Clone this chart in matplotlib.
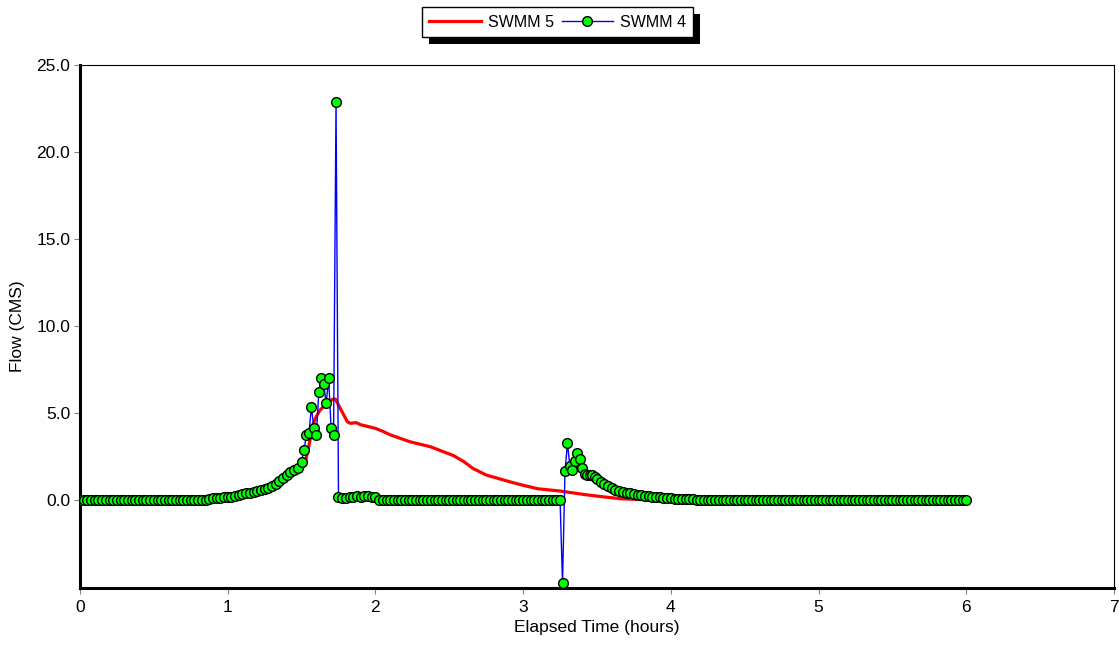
import numpy as np
import matplotlib
matplotlib.use("Agg")
import matplotlib.pyplot as plt
from matplotlib.patches import Rectangle

plt.rcParams['font.family'] = ['Liberation Sans', 'DejaVu Sans']

# ---------------- data ----------------
# SWMM 4 output times (hours): dry steps 1.5 min, wet steps 1 min
swmm4_time = np.concatenate([
    np.arange(0, 60) * 0.025,             # 0.000 .. 1.475
    1.5 + np.arange(0, 15) / 60.0,        # 1.500 .. 1.733
    1.75 + np.arange(0, 61) * 0.025,      # 1.750 .. 3.250
    3.25 + np.arange(1, 16) / 60.0,       # 3.267 .. 3.500
    3.525 + np.arange(0, 100) * 0.025,    # 3.525 .. 6.000
])

swmm4_seg1 = [0.02] * 35 + [
    0.05, 0.10, 0.10, 0.12, 0.15, 0.18, 0.20, 0.25, 0.30, 0.33,
    0.38, 0.42, 0.47, 0.52, 0.58, 0.64, 0.72, 0.82, 0.95, 1.10,
    1.25, 1.42, 1.60, 1.72, 1.85]
swmm4_seg2 = [2.20, 2.90, 3.75, 3.83, 5.36, 4.12, 3.74, 6.19, 6.99, 6.67,
              5.56, 6.99, 4.12, 3.74, 22.86]
swmm4_seg3 = [0.19, 0.12, 0.10, 0.15, 0.20, 0.22, 0.20, 0.22, 0.22, 0.20,
              0.18] + [0.02] * 50
swmm4_seg4 = [-4.77, 1.65, 3.26, 1.95, 1.75, 2.25, 2.68, 2.35, 1.85, 1.50,
              1.42, 1.45, 1.42, 1.30, 1.20]
swmm4_seg5 = [1.05, 0.92, 0.82, 0.70, 0.60, 0.52, 0.46, 0.42, 0.38, 0.34,
              0.30, 0.27, 0.25, 0.22, 0.20, 0.18, 0.16, 0.14, 0.12, 0.10,
              0.09, 0.08, 0.07, 0.06, 0.05, 0.04] + [0.02] * 74
swmm4_flow = np.array(swmm4_seg1 + swmm4_seg2 + swmm4_seg3 + swmm4_seg4 + swmm4_seg5)

# SWMM 5 output
swmm5_time = [0.0, 0.8, 0.9, 1.0, 1.1, 1.2, 1.3, 1.4, 1.45, 1.5, 1.52, 1.546,
              1.58, 1.6, 1.625, 1.67, 1.71, 1.73, 1.738, 1.78, 1.81, 1.83,
              1.87, 1.9, 2.0, 2.05, 2.1, 2.234, 2.37, 2.46, 2.53, 2.6, 2.66,
              2.75, 2.91, 3.0, 3.1, 3.25, 3.43, 3.55, 3.66, 3.8, 4.0, 6.0]
swmm5_flow = [0.0, 0.0, 0.05, 0.15, 0.28, 0.47, 0.75, 1.3, 1.6, 1.8, 2.0, 2.97,
              4.4, 4.8, 5.17, 5.56, 5.79, 5.8, 5.65, 4.98, 4.5, 4.41,
              4.45, 4.33, 4.12, 3.95, 3.75, 3.35, 3.07, 2.78, 2.55, 2.2, 1.82,
              1.44, 1.05, 0.85, 0.65, 0.52, 0.3, 0.18, 0.08, 0.03, 0.0, 0.0]

x_ticks = [0, 1, 2, 3, 4, 5, 6, 7]
y_ticks = [0, 5, 10, 15, 20, 25]
y_ticklabels = ["0.0", "5.0", "10.0", "15.0", "20.0", "25.0"]

# ---------------- plot ----------------
fig = plt.figure(figsize=(11.19, 6.49), dpi=100)
ax = fig.add_axes([0.0715, 0.094, 0.924, 0.806])

ax.plot(swmm5_time, swmm5_flow, color='#FF0000', lw=2.3, label='SWMM 5', zorder=2)
ax.plot(swmm4_time, swmm4_flow, color='#0000FF', lw=1.0, marker='o',
        markersize=7, markerfacecolor='#00FF00', markeredgecolor='black',
        markeredgewidth=1.0, label='SWMM 4', zorder=3)

ax.set_xlim(0, 7)
ax.set_ylim(-5.05, 25)
ax.set_xticks(x_ticks)
ax.set_yticks(y_ticks)
ax.set_yticklabels(y_ticklabels)
ax.tick_params(direction='out', length=4, width=0.8, color='#808080',
               labelsize=12.5)
ax.tick_params(axis='y', pad=3)
ax.tick_params(axis='x', pad=5)
for side in ['left', 'bottom']:
    ax.spines[side].set_linewidth(2.2)
for side in ['top', 'right']:
    ax.spines[side].set_linewidth(0.8)

ax.set_xlabel('Elapsed Time (hours)', fontsize=12.5, labelpad=3)
ax.set_ylabel('Flow (CMS)', fontsize=12.5, labelpad=8)

leg = fig.legend(loc='center', bbox_to_anchor=(0.4985, 0.966), ncol=2,
                 frameon=True, fancybox=False, fontsize=11.5, framealpha=1,
                 handlelength=3.2, columnspacing=0.5, handletextpad=0.45,
                 borderpad=0.45, borderaxespad=0)
leg.get_frame().set_edgecolor('black')
leg.get_frame().set_facecolor('white')
leg.get_frame().set_linewidth(1.0)
leg.set_zorder(5)

fig.canvas.draw()
bb = leg.get_window_extent().transformed(fig.transFigure.inverted())
dx, dy = 7 / 1119, 7 / 649
fig.patches.append(Rectangle((bb.x0 + dx, bb.y0 - dy), bb.width, bb.height,
                             transform=fig.transFigure, facecolor='black',
                             edgecolor='none', zorder=4))

fig.savefig('out.png', dpi=100)
